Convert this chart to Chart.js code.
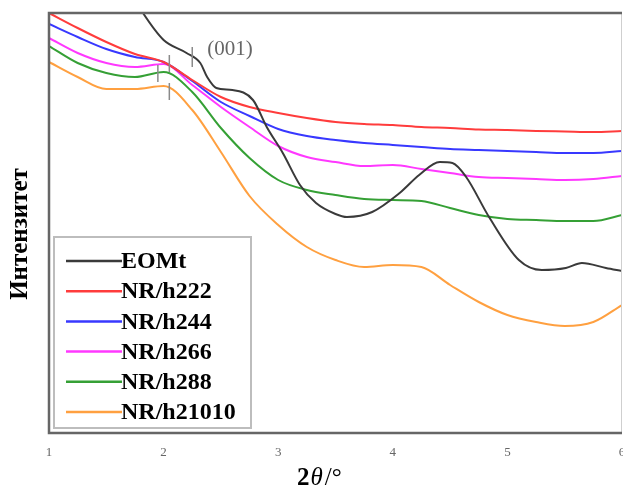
<!DOCTYPE html>
<html>
<head>
<meta charset="utf-8">
<script src="https://cdn.jsdelivr.net/npm/chart.js@4"></script>
<style>
  html, body { margin: 0; padding: 0; background: #fff; }
  #wrap { width: 623px; height: 489px; }
</style>
</head>
<body>
<div id="wrap"><canvas id="xrd-chart"></canvas></div>
<script>
// 2theta positions shared by the NR samples
const angles = [1, 1.25, 1.5, 1.75, 2, 2.25, 2.5, 2.75, 3, 3.25, 3.5, 3.75, 4, 4.25, 4.5, 4.75, 5, 5.25, 5.5, 5.75, 6];
const h222 = [420, 405, 391, 379, 371, 353, 336, 326, 320, 315, 311, 309, 308, 306, 305, 303.5, 303, 302, 301.5, 301, 302];
const h244 = [409, 396, 384, 376, 371, 352, 331, 317, 304, 297, 293, 290, 288, 286, 284, 283, 282, 281, 280, 280, 282];
const h266 = [395, 380, 370, 366, 369, 348, 326, 306, 287, 276, 271, 267, 268, 264, 260, 256, 255, 254, 253, 254, 257];
const h288 = [387, 370, 360, 356, 361, 341, 305, 275, 253, 243, 238, 234, 233, 232, 225, 218, 214, 213, 212, 212, 218];
const h21010 = [371, 356, 344, 344, 347, 323, 281, 237, 208, 186, 173, 166, 168, 166, 148, 131, 118, 111, 107, 111, 128];

// EOMt sampled on its own grid (steep parts need more points)
const eomtAngles = [1.6, 1.82, 2.0, 2.2, 2.32, 2.38, 2.46, 2.6, 2.78, 2.9, 3.04, 3.19, 3.33, 3.5, 3.6, 3.82, 4.06, 4.23, 4.41, 4.52, 4.64, 4.84, 5.1, 5.3, 5.51, 5.65, 5.86, 6.0];
const eomt = [463, 420, 393, 380, 370, 356, 345, 343, 333, 306, 280, 248, 230, 219, 216, 221, 240, 258, 271, 270, 256, 216, 173, 163, 165, 170, 165, 162];

const xTicks = [1, 2, 3, 4, 5, 6];

// (001) reflection markers: [x, yFrom, yTo]
const peakMarks = [[1.95, 368, 351], [2.05, 378, 361], [2.05, 350, 333], [2.25, 386, 366]];
const peakLabel = { x: 2.38, y: 384, text: "(001)" };

const toPoints = (xs, ys) => xs.map((x, i) => ({ x: x, y: ys[i] }));

const series = [
  { label: "EOMt", xs: eomtAngles, ys: eomt, color: "#3a3a3a" },
  { label: "NR/h222", xs: angles, ys: h222, color: "#ff3c3c" },
  { label: "NR/h244", xs: angles, ys: h244, color: "#3838ff" },
  { label: "NR/h266", xs: angles, ys: h266, color: "#ff38ff" },
  { label: "NR/h288", xs: angles, ys: h288, color: "#35a035" },
  { label: "NR/h21010", xs: angles, ys: h21010, color: "#ffa040" },
];

const serif = "'Liberation Serif', 'DejaVu Serif', serif";

const decorPlugin = {
  id: "decor",
  afterDatasetsDraw(chart) {
    const { ctx, chartArea: a, scales } = chart;
    const xs = scales.x, ys = scales.y;
    ctx.save();

    // frame
    ctx.strokeStyle = "#cfcfcf";
    ctx.lineWidth = 1;
    ctx.beginPath();
    ctx.moveTo(a.right - 0.5, a.top);
    ctx.lineTo(a.right - 0.5, a.bottom);
    ctx.stroke();
    ctx.strokeStyle = "#666";
    ctx.lineWidth = 2.5;
    ctx.beginPath();
    ctx.moveTo(a.right, a.top);
    ctx.lineTo(a.left, a.top);
    ctx.lineTo(a.left, a.bottom);
    ctx.lineTo(a.right, a.bottom);
    ctx.stroke();

    // peak markers
    ctx.strokeStyle = "#8a8a8a";
    ctx.lineWidth = 1.5;
    peakMarks.forEach((m) => {
      const px = xs.getPixelForValue(m[0]);
      ctx.beginPath();
      ctx.moveTo(px, ys.getPixelForValue(m[1]));
      ctx.lineTo(px, ys.getPixelForValue(m[2]));
      ctx.stroke();
    });
    ctx.fillStyle = "#666";
    ctx.font = "21px " + serif;
    ctx.textBaseline = "middle";
    ctx.textAlign = "left";
    ctx.fillText(peakLabel.text, xs.getPixelForValue(peakLabel.x), ys.getPixelForValue(peakLabel.y));

    // legend box
    const lx = 54, ly = 237, lw = 197, lh = 191;
    ctx.fillStyle = "#fff";
    ctx.fillRect(lx, ly, lw, lh);
    ctx.strokeStyle = "#bdbdbd";
    ctx.lineWidth = 2;
    ctx.strokeRect(lx, ly, lw, lh);
    ctx.font = "bold 24px " + serif;
    chart.data.datasets.forEach((ds, i) => {
      const cy = 261 + i * 30.2;
      ctx.strokeStyle = ds.borderColor;
      ctx.lineWidth = 2.5;
      ctx.beginPath();
      ctx.moveTo(66, cy);
      ctx.lineTo(122, cy);
      ctx.stroke();
      ctx.fillStyle = "#000";
      ctx.fillText(ds.label, 121, cy + 1);
    });

    // axis titles
    ctx.fillStyle = "#000";
    ctx.textBaseline = "alphabetic";
    let tx = 297;
    const ty = 485;
    ctx.font = "bold 25px " + serif;
    ctx.fillText("2", tx, ty);
    tx += ctx.measureText("2").width + 1;
    ctx.font = "italic 25px " + serif;
    ctx.fillText("θ", tx, ty);
    tx += ctx.measureText("θ").width + 2;
    ctx.font = "25px " + serif;
    ctx.fillText("/°", tx, ty);

    ctx.translate(21, 234);
    ctx.rotate(-Math.PI / 2);
    ctx.font = "bold 25px " + serif;
    ctx.textAlign = "center";
    ctx.textBaseline = "middle";
    ctx.fillText("Интензитет", 0, 0);
    ctx.restore();
  },
};

new Chart(document.getElementById("xrd-chart"), {
  type: "line",
  data: {
    datasets: series.map((s) => ({
      label: s.label,
      data: toPoints(s.xs, s.ys),
      borderColor: s.color,
      backgroundColor: s.color,
      borderWidth: 2,
      pointRadius: 0,
      cubicInterpolationMode: "monotone",
    })),
  },
  options: {
    responsive: true,
    maintainAspectRatio: false,
    animation: false,
    layout: { padding: { top: 13, right: 1, left: 0, bottom: 0 } },
    scales: {
      x: {
        type: "linear",
        min: 1,
        max: 6,
        afterFit: (scale) => {
          scale.height = 56;
          scale.paddingLeft = 0;
          scale.paddingRight = 0;
        },
        afterBuildTicks: (scale) => { scale.ticks = xTicks.map((v) => ({ value: v })); },
        grid: { display: false, drawTicks: false },
        border: { display: false },
        ticks: {
          padding: 12,
          color: "#666",
          font: { family: serif, size: 13 },
          maxRotation: 0,
        },
      },
      y: {
        min: 0,
        max: 420,
        afterFit: (scale) => { scale.width = 49; },
        grid: { display: false, drawTicks: false },
        border: { display: false },
        ticks: { display: false },
      },
    },
    plugins: {
      legend: { display: false },
      tooltip: { enabled: false },
    },
  },
  plugins: [decorPlugin],
});
</script>
</body>
</html>
